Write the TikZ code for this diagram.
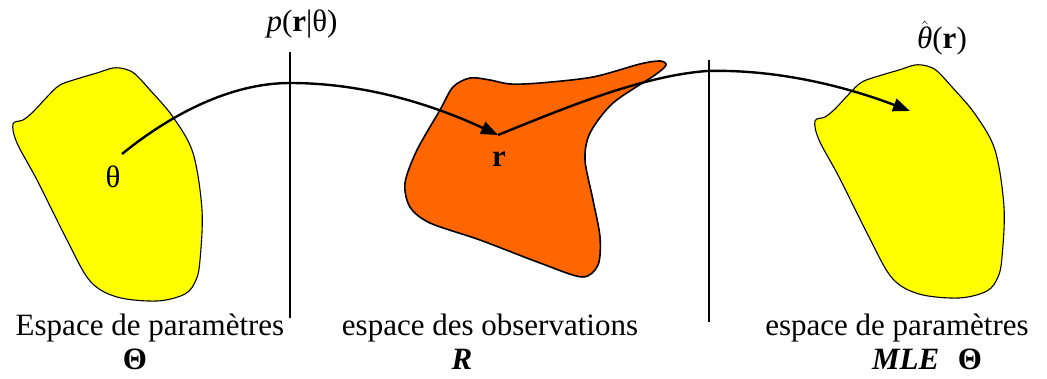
\documentclass[tikz,border=0pt]{standalone}
\usepackage{fontspec}
\setmainfont{Liberation Serif}
\usetikzlibrary{arrows.meta}
\definecolor{blobyellow}{HTML}{FFFF00}
\definecolor{bloborange}{HTML}{FF6600}
\begin{document}
\begin{tikzpicture}[x=1pt,y=-1pt,
  every node/.style={inner sep=0pt,font=\fontsize{31}{37}\selectfont},
  yblob/.style={draw=black,line width=1.1pt,fill=blobyellow},
  oblob/.style={draw=black,line width=1.6pt,fill=bloborange},
  divider/.style={line width=1.6pt},
  mapping/.style={line width=2.4pt,-{Triangle[length=17pt,width=13pt]}},
  lab/.style={anchor=base}]
\useasboundingbox (0,0) rectangle (1047,379);
% blobs
\draw[yblob] plot[smooth cycle,tension=0.55] coordinates {
 (13,124) (23,120) (33,112) (47,97) (60,85) (80,78) (97,73) (113,68) (125,69) (135,74) (150,90)
 (173,117) (193,153) (202,210) (200,260) (196,280) (185,294) (157,301) (117,297) (90,281)
 (67,240) (37,180) (17,143)};
\begin{scope}[shift={(802,-3)}]
\draw[yblob] plot[smooth cycle,tension=0.55] coordinates {
 (13,124) (23,120) (33,112) (47,97) (60,85) (80,78) (97,73) (113,68) (125,69) (135,74) (150,90)
 (173,117) (193,153) (202,210) (200,260) (196,280) (185,294) (157,301) (117,297) (90,281)
 (67,240) (37,180) (17,143)};
\end{scope}
\draw[oblob] plot[smooth cycle,tension=0.5] coordinates {
 (453,87) (470,78) (490,80) (510,84) (540,83) (593,77) (640,64) (660,61) (666,65) (655,75)
 (613,103) (590,133) (585,160) (593,200) (600,237) (598,265) (582,277) (540,263) (480,240)
 (430,223) (410,207) (405,183) (417,150) (440,110)};
% dividers
\coordinate (d1t) at (290,52); \coordinate (d1b) at (290,318);
\coordinate (d2t) at (709,60); \coordinate (d2b) at (709,322);
\draw[divider] (d1t) -- (d1b);
\draw[divider] (d2t) -- (d2b);
% mapping points
\coordinate (th) at (122,154);
\coordinate (rp) at (498,135);
\coordinate (pk1) at (290,83);
\coordinate (pk2) at (707,71);
\coordinate (est) at (910,111);
\draw[mapping] (th) .. controls (170,115) and (230,83) .. (pk1)
  .. controls (370,83) and (440,108) .. (rp);
\draw[mapping] (rp) .. controls (560,110) and (640,76) .. (pk2)
  .. controls (780,69) and (850,88) .. (est);
% labels
\node[lab] (tlab) at (113,188) {θ};
\node[lab] (rlab) at (499,167) {\textbf{r}};
\node[lab] (plab) at (302,32) {\textit{p}(\textbf{r}|θ)};
\node[lab] (hlab) at (942,49) {$\hat{\mbox{\textit{θ}}}$(\textbf{r})};
\node[lab] (s1) at (150,335) {Espace de paramètres};
\node[lab] (s2) at (490,335) {espace des observations};
\node[lab] (s3) at (897,335) {espace de paramètres};
\node[lab] (g1) at (135,369) {\textbf{Θ}};
\node[lab] (g2) at (462,369) {\textbf{\textit{R}}};
\node[lab] (g3) at (927,369) {\textbf{\textit{MLE}}\hspace{0.6em}\textbf{Θ}};
\end{tikzpicture}
\end{document}
